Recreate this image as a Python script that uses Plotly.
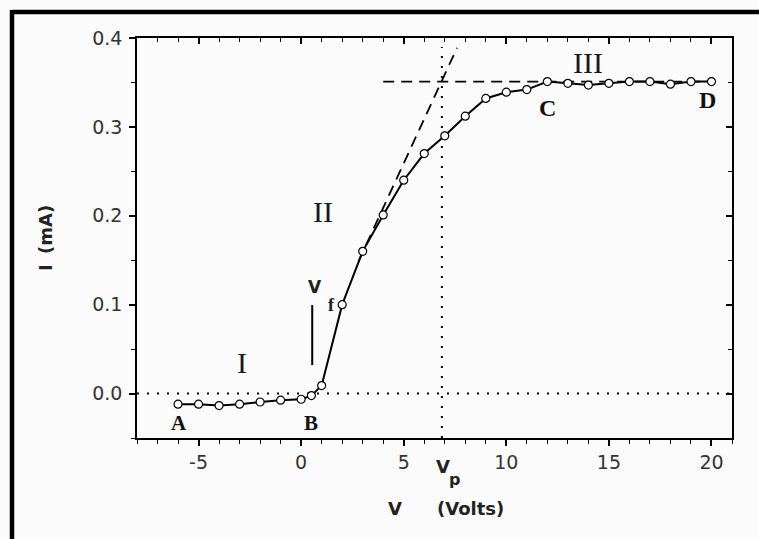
import plotly.graph_objects as go

# ---- data ----
voltage = [-6, -5, -4, -3, -2, -1, 0, 0.5, 1, 2, 3, 4, 5, 6, 7, 8, 9, 10,
           11, 12, 13, 14, 15, 16, 17, 18, 19, 20]
current = [-0.012, -0.012, -0.0135, -0.012, -0.0095, -0.0075, -0.0064, -0.0023,
           0.009, 0.100, 0.160, 0.201, 0.240, 0.270, 0.290, 0.312, 0.332, 0.339,
           0.342, 0.351, 0.349, 0.347, 0.349, 0.351, 0.351, 0.348, 0.351, 0.351]

x_ticks = [-5, 0, 5, 10, 15, 20]
y_ticks = [0.0, 0.1, 0.2, 0.3, 0.4]
x_range = [-8, 21]
y_range = [-0.05, 0.4]

v_p = 6.86          # plasma potential
v_f = 0.54          # floating potential
i_sat = 0.351       # saturation current
tangent_x = [2.8, 7.6]
tangent_slope = 0.05
tangent_icpt = 0.009

region_labels = ["A", "B", "C", "D"]
region_x = [-5.97, 0.5, 12.0, 19.82]
region_y = [-0.0335, -0.0335, 0.321, 0.330]
roman_labels = ["I", "II", "III"]
roman_x = [-2.88, 1.06, 13.97]
roman_y = [0.0353, 0.2045, 0.372]

# ---- layout geometry (pixels) ----
W, H = 759, 539
L, R, T, B = 137, 27, 38, 101
PW, PH = W - L - R, H - T - B


def px(xp):
    return (xp - L) / PW


def py(yp):
    return (H - B - yp) / PH


fig = go.Figure()

# reference lines
fig.add_trace(go.Scatter(x=x_range, y=[0, 0], mode="lines",
                         line=dict(color="black", width=2, dash="2px,8px"),
                         hoverinfo="skip", showlegend=False))
fig.add_trace(go.Scatter(x=[v_p, v_p], y=[y_range[0], 0.39], mode="lines",
                         line=dict(color="black", width=2, dash="2px,8px"),
                         hoverinfo="skip", showlegend=False))
fig.add_trace(go.Scatter(x=[4, 20], y=[i_sat, i_sat], mode="lines",
                         line=dict(color="black", width=1.8, dash="11px,7px"),
                         hoverinfo="skip", showlegend=False))
fig.add_trace(go.Scatter(x=tangent_x,
                         y=[tangent_slope * v + tangent_icpt for v in tangent_x],
                         mode="lines",
                         line=dict(color="black", width=1.8, dash="11px,7px"),
                         hoverinfo="skip", showlegend=False))
# Vf marker bar
fig.add_trace(go.Scatter(x=[v_f, v_f], y=[0.032, 0.0995], mode="lines",
                         line=dict(color="black", width=2),
                         hoverinfo="skip", showlegend=False))

# data curve
fig.add_trace(go.Scatter(x=voltage, y=current, mode="lines+markers",
                         line=dict(color="black", width=2),
                         marker=dict(symbol="circle", size=8, color="white",
                                     line=dict(color="black", width=1.2)),
                         showlegend=False))

# dummy trace for the top/right mirrored axes
fig.add_trace(go.Scatter(x=[None], y=[None], xaxis="x2", yaxis="y2",
                         showlegend=False, hoverinfo="skip"))

tickfont = dict(family="DejaVu Sans", size=19, color="#333333")

fig.update_layout(
    width=W, height=H,
    margin=dict(l=L, r=R, t=T, b=B, pad=0),
    paper_bgcolor="#fbfbfb", plot_bgcolor="#fbfbfb",
    xaxis=dict(range=x_range, tickvals=x_ticks, ticktext=[str(v) for v in x_ticks],
               showline=True, linecolor="black", linewidth=1.6,
               ticks="outside", ticklen=6, tickwidth=1.5, tickcolor="black",
               minor=dict(ticks="outside", dtick=1, tick0=0, ticklen=4,
                          tickwidth=1.2, tickcolor="black"),
               showgrid=False, zeroline=False, tickfont=tickfont),
    yaxis=dict(range=y_range, tickvals=y_ticks,
               ticktext=["%.1f" % v for v in y_ticks],
               showline=True, linecolor="black", linewidth=1.6,
               ticks="outside", ticklen=6, tickwidth=1.5, tickcolor="black",
               minor=dict(ticks="outside", dtick=0.05, tick0=0, ticklen=4,
                          tickwidth=1.2, tickcolor="black"),
               showgrid=False, zeroline=False, tickfont=tickfont,
               ticklabelstandoff=3),
    xaxis2=dict(range=x_range, overlaying="x", side="top", showline=True,
                linecolor="black", linewidth=1.6, tickvals=x_ticks,
                ticks="inside", ticklen=6, tickwidth=1.5, tickcolor="black",
                minor=dict(ticks="inside", dtick=1, tick0=0, ticklen=4,
                           tickwidth=1.2, tickcolor="black"),
                showticklabels=False, showgrid=False, zeroline=False),
    yaxis2=dict(range=y_range, overlaying="y", side="right", showline=True,
                linecolor="black", linewidth=1.6, tickvals=y_ticks,
                ticks="inside", ticklen=6, tickwidth=1.5, tickcolor="black",
                minor=dict(ticks="inside", dtick=0.05, tick0=0, ticklen=4,
                           tickwidth=1.2, tickcolor="black"),
                showticklabels=False, showgrid=False, zeroline=False),
)

# outer black frame (top + left)
fig.add_shape(type="line", xref="paper", yref="paper",
              x0=px(12), x1=px(W), y0=py(12), y1=py(12),
              line=dict(color="black", width=4.5))
fig.add_shape(type="line", xref="paper", yref="paper",
              x0=px(12), x1=px(12), y0=py(10), y1=py(H),
              line=dict(color="black", width=4.5))

serif = "Liberation Serif"
for lab, xv, yv in zip(region_labels, region_x, region_y):
    size = 21 if lab in ("A", "B") else 24
    fig.add_annotation(x=xv, y=yv, text="<b>%s</b>" % lab, showarrow=False,
                       font=dict(family=serif, size=size, color="#111111"),
                       xanchor="center", yanchor="middle")
for lab, xv, yv in zip(roman_labels, roman_x, roman_y):
    fig.add_annotation(x=xv, y=yv, text=lab, showarrow=False,
                       font=dict(family=serif, size=30, color="#1a1a1a"),
                       xanchor="center", yanchor="middle")

sans_b = dict(family="DejaVu Sans", color="#222222")
# Vf label
fig.add_annotation(xref="paper", yref="paper", x=px(315), y=py(287), text="<b>V</b>",
                   showarrow=False, font=dict(size=17, **sans_b),
                   xanchor="center", yanchor="middle")
fig.add_annotation(xref="paper", yref="paper", x=px(331), y=py(305), text="<b>f</b>",
                   showarrow=False, font=dict(family=serif, size=18, color="#222222"),
                   xanchor="center", yanchor="middle")
# Vp label
fig.add_annotation(xref="paper", yref="paper", x=px(443), y=py(466), text="<b>V</b>",
                   showarrow=False, font=dict(size=18, **sans_b),
                   xanchor="center", yanchor="middle")
fig.add_annotation(xref="paper", yref="paper", x=px(454), y=py(479), text="<b>p</b>",
                   showarrow=False, font=dict(size=16, **sans_b),
                   xanchor="center", yanchor="middle")
# axis titles
fig.add_annotation(xref="paper", yref="paper", x=px(395), y=py(508), text="<b>V</b>",
                   showarrow=False, font=dict(size=18, **sans_b),
                   xanchor="center", yanchor="middle")
fig.add_annotation(xref="paper", yref="paper", x=px(470), y=py(508), text="<b>(Volts)</b>",
                   showarrow=False, font=dict(size=18, **sans_b),
                   xanchor="center", yanchor="middle")
fig.add_annotation(xref="paper", yref="paper", x=px(45), y=py(268), text="<b>I</b>",
                   showarrow=False, textangle=-90, font=dict(size=18, **sans_b),
                   xanchor="center", yanchor="middle")
fig.add_annotation(xref="paper", yref="paper", x=px(45), y=py(230), text="<b>(mA)</b>",
                   showarrow=False, textangle=-90, font=dict(size=18, **sans_b),
                   xanchor="center", yanchor="middle")

fig.write_html("out.html")
